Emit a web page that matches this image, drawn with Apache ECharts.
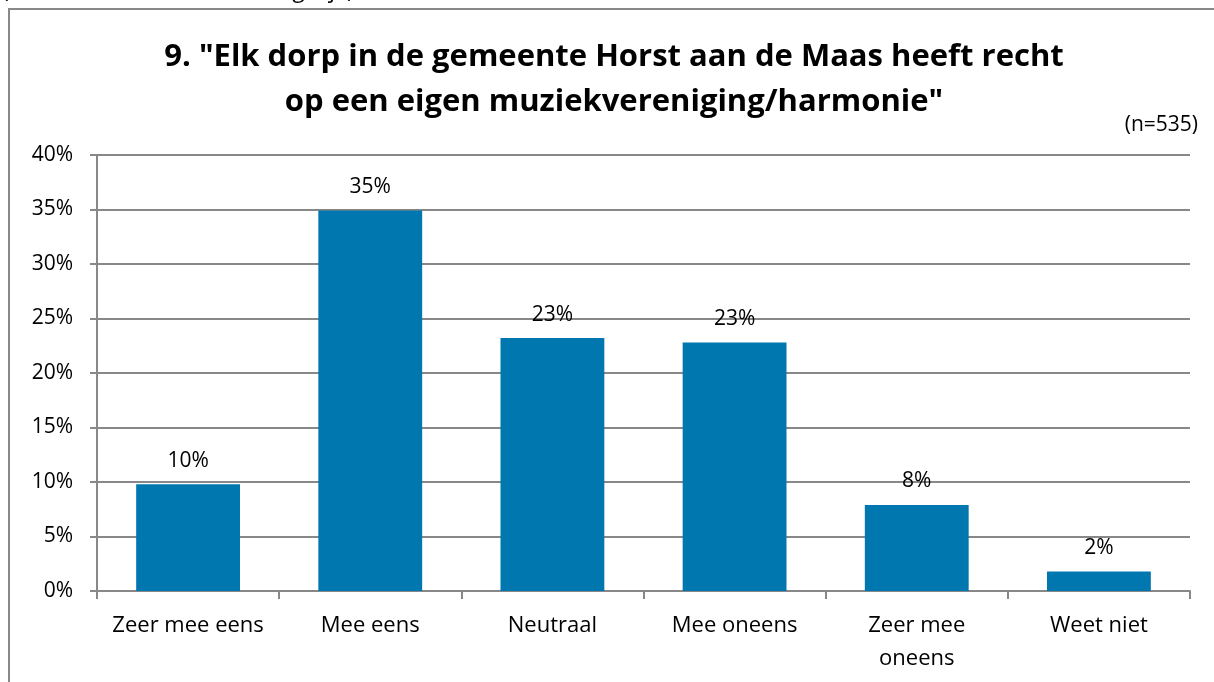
<!DOCTYPE html>
<html>
<head>
<meta charset="utf-8">
<script src="https://cdn.jsdelivr.net/npm/echarts@6/dist/echarts.min.js"></script>
<style>
  html, body { margin: 0; padding: 0; background: #fff; }
  #chart { width: 1214px; height: 682px; }
</style>
</head>
<body>
<div id="chart"></div>
<script>
// data
const categories = ['Zeer mee eens', 'Mee eens', 'Neutraal', 'Mee oneens', 'Zeer mee\noneens', 'Weet niet']
const values = [9.8, 34.9, 23.2, 22.8, 7.9, 1.8]
const labels = ['10%', '35%', '23%', '23%', '8%', '2%']
const yTicks = [0, 5, 10, 15, 20, 25, 30, 35, 40]

const font = 'Open Sans, Noto Sans, sans-serif'
const chart = echarts.init(document.getElementById('chart'))

chart.setOption({
  backgroundColor: '#fff',
  animation: false,
  title: {
    text: '9. "Elk dorp in de gemeente Horst aan de Maas heeft recht\nop een eigen muziekvereniging/harmonie"',
    left: 609,
    top: 30,
    textAlign: 'center',
    textStyle: {
      fontFamily: font,
      fontSize: 31,
      fontWeight: 'bold',
      color: '#000',
      lineHeight: 45,
    },
  },
  graphic: [
    {
      type: 'rect',
      shape: { x: 9, y: 9, width: 1260, height: 720 },
      style: { fill: 'none', stroke: '#888', lineWidth: 2 },
    },
    {
      type: 'text',
      left: 2,
      top: -21,
      style: { text: '(Meerdere antwoorden mogelijk)', font: '23px ' + font, fill: '#000' },
    },
    {
      type: 'text',
      right: 16,
      top: 115,
      style: { text: '(n=535)', font: '21px ' + font, fill: '#000' },
    },
  ],
  grid: {
    left: 97,
    right: 24,
    top: 155,
    bottom: 91,
  },
  xAxis: {
    type: 'category',
    data: categories,
    axisLine: { lineStyle: { color: '#888', width: 2 } },
    axisTick: { show: true, length: 8, lineStyle: { color: '#888', width: 2 } },
    axisLabel: {
      color: '#000',
      fontFamily: font,
      fontSize: 22,
      margin: 18,
      lineHeight: 33,
      interval: 0,
    },
  },
  yAxis: {
    type: 'value',
    min: 0,
    max: 40,
    interval: 5,
    axisLine: { show: true, lineStyle: { color: '#888', width: 2 } },
    axisTick: { show: true, length: 7, lineStyle: { color: '#888', width: 2 } },
    splitLine: { lineStyle: { color: '#888', width: 2 } },
    axisLabel: {
      color: '#000',
      fontFamily: font,
      fontSize: 21,
      margin: 24,
      formatter: (v) => yTicks.includes(v) ? v + '%' : '',
    },
  },
  series: [
    {
      type: 'bar',
      data: values,
      barWidth: '57%',
      itemStyle: { color: '#0077AE' },
      label: {
        show: true,
        position: 'top',
        distance: 13,
        color: '#000',
        fontFamily: font,
        fontSize: 21,
        formatter: (p) => labels[p.dataIndex],
      },
    },
  ],
})
</script>
</body>
</html>
